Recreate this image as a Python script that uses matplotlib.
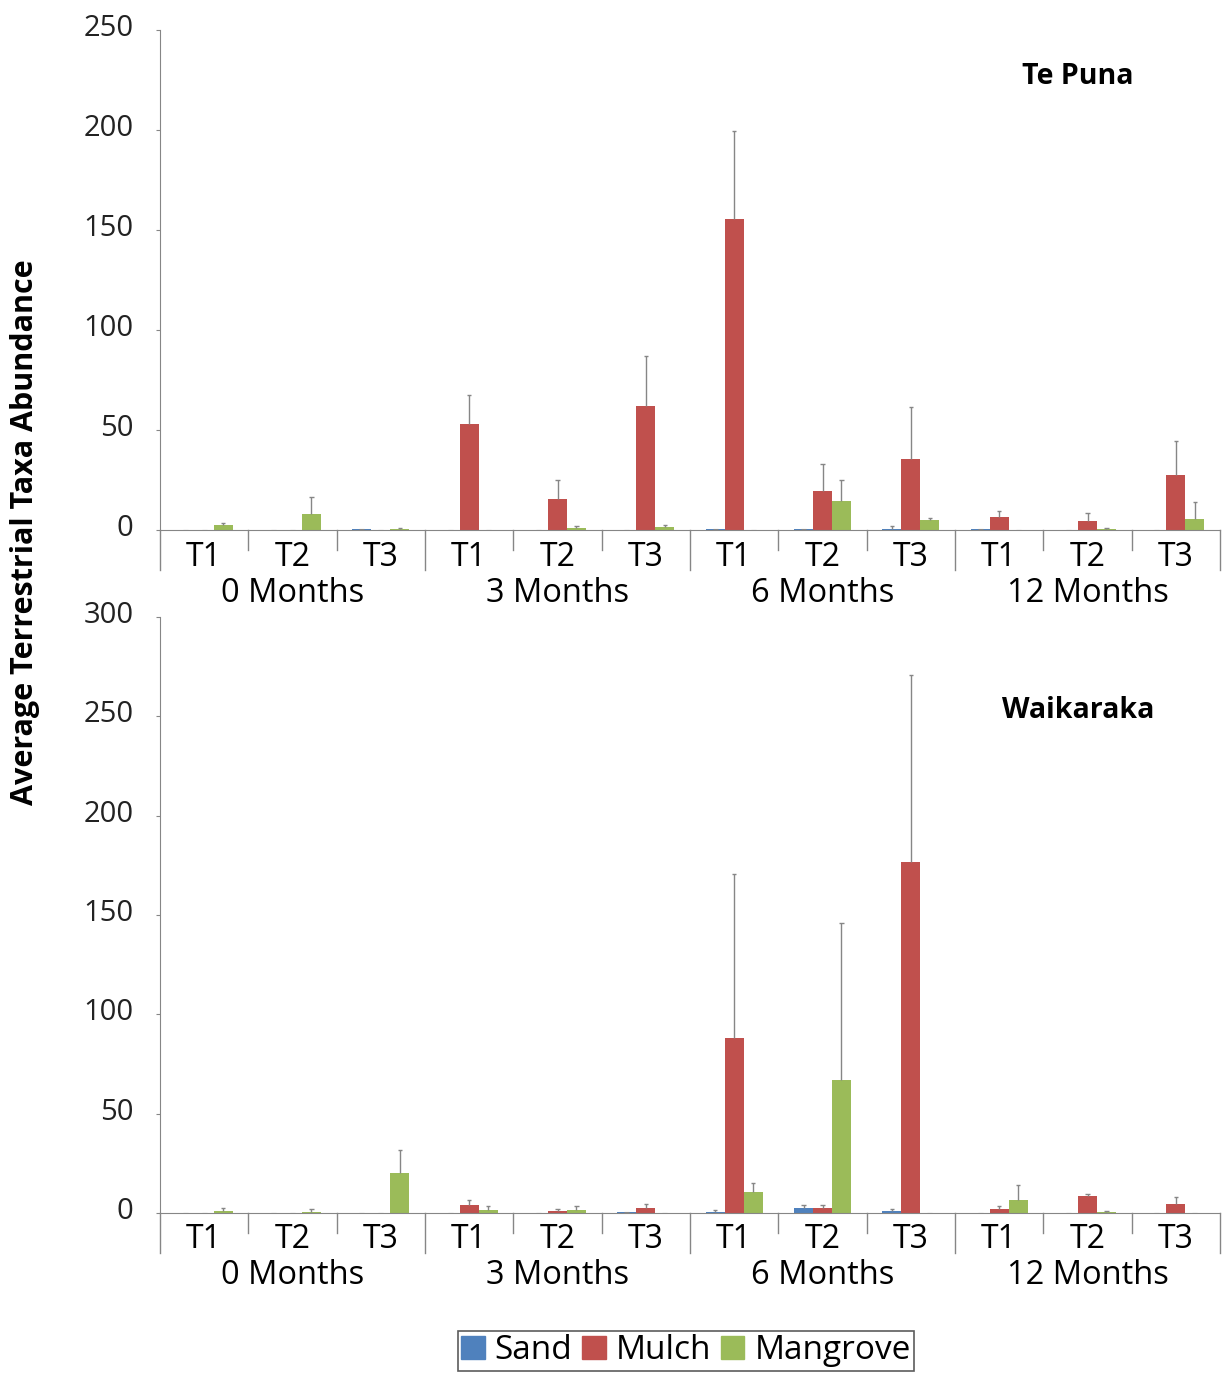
import numpy as np
import matplotlib
matplotlib.use("Agg")
import matplotlib.pyplot as plt
import matplotlib.transforms as mtransforms
from matplotlib.patches import Patch

plt.rcParams['font.family'] = ['Open Sans', 'DejaVu Sans']

# ---- data: mean abundance and (upper) error per treatment ----
months = ["0 Months", "3 Months", "6 Months", "12 Months"]
plots = ["T1", "T2", "T3"]
series = ["Sand", "Mulch", "Mangrove"]
colors = ["#4F81BD", "#C0504D", "#9BBB59"]

# Te Puna
tp_sand = [0.2, 0.2, 0.3, 0.2, 0.2, 0.2, 0.3, 0.3, 0.6, 0.3, 0.0, 0.2]
tp_mulch = [0.0, 0.0, 0.0, 53, 15.5, 62, 155.5, 19.5, 35.5, 6.5, 4.5, 27.5]
tp_mangrove = [2.5, 8, 0.3, 0.0, 1.0, 1.5, 0.0, 14.5, 5.0, 0.0, 0.4, 5.5]
tp_sand_err = [0, 0, 0, 0, 0, 0, 0, 0, 1.2, 0, 0, 0]
tp_mulch_err = [0, 0, 0, 14.5, 9.5, 25, 44, 13.5, 26, 3, 4, 17]
tp_mangrove_err = [1, 8.5, 0.7, 0, 1.2, 1.2, 0, 10.5, 1, 0, 0.6, 8.5]

# Waikaraka
wk_sand = [0.2, 0.0, 0.0, 0.0, 0.0, 0.3, 0.5, 2.5, 1.0, 0.0, 0.0, 0.0]
wk_mulch = [0.0, 0.0, 0.0, 4.0, 1.0, 2.5, 88, 2.5, 176.5, 2.0, 8.7, 4.5]
wk_mangrove = [1.0, 0.5, 20, 1.5, 1.5, 0.0, 10.5, 67, 0.0, 6.4, 0.4, 0.0]
wk_sand_err = [0, 0, 0, 0, 0, 0, 1, 1.5, 1, 0, 0, 0]
wk_mulch_err = [0, 0, 0, 2.5, 1, 2, 82.5, 1.5, 94.5, 1.7, 0.7, 3.5]
wk_mangrove_err = [1.5, 1.5, 11.7, 2, 2, 0, 4.5, 79, 0, 7.6, 0.6, 0]

fig = plt.figure(figsize=(12.24, 13.75), dpi=100)
W, H = 1224, 1375
ax_top = fig.add_axes([160 / W, 1 - 530 / H, 1060 / W, 500 / H])
ax_bot = fig.add_axes([160 / W, 1 - 1213 / H, 1060 / W, 596 / H])

grey = "#868686"
bw = 0.215
n = len(months) * len(plots)
xc = np.arange(n) + 0.5
lift = mtransforms.ScaledTranslation(0, 5 / 100, fig.dpi_scale_trans)


def draw_panel(ax, vals, errs, ymax, title, title_y, ax_h):
    for i, (v, e) in enumerate(zip(vals, errs)):
        x = xc + (i - 1) * bw
        ax.bar(x, v, width=bw, color=colors[i], zorder=2)
        v = np.array(v)
        e = np.array(e)
        m = e > 0
        ax.vlines(x[m], v[m], v[m] + e[m], color=grey, lw=1, zorder=3)
        ax.hlines(v[m] + e[m], x[m] - 0.025, x[m] + 0.025, color=grey, lw=1, zorder=3)
        # tiny marks for near-zero bars without error
        ax.hlines(v[~m], x[~m] - 0.03, x[~m] + 0.03, color=grey, lw=0.8, zorder=3)

    ax.set_xlim(0, n)
    ax.set_ylim(0, ymax)
    ax.set_yticks(np.arange(0, ymax + 1, 50))
    ax.tick_params(axis='y', labelsize=21, length=3, color=grey, pad=16,
                   labelcolor="#222222")
    for lab in ax.get_yticklabels():
        lab.set_transform(lab.get_transform() + lift)
    ax.set_xticks([])
    for s in ["top", "right"]:
        ax.spines[s].set_visible(False)
    ax.spines["left"].set_color(grey)
    ax.spines["bottom"].set_color(grey)

    # category axis: plot separators and month separators
    long_f = -40 / ax_h
    short_f = -20 / ax_h
    trans = ax.get_xaxis_transform()
    for k in range(n + 1):
        y1 = long_f if k % 3 == 0 else short_f
        ax.plot([k, k], [0, y1], color=grey, lw=1, transform=trans, clip_on=False)
    for k in range(n):
        ax.annotate(plots[k % 3], xy=(xc[k], 0), xycoords=trans,
                    xytext=(0, -27), textcoords='offset pixels',
                    ha='center', va='center', fontsize=23)
    for g, lab in enumerate(months):
        ax.annotate(lab, xy=(g * 3 + 1.5, 0), xycoords=trans,
                    xytext=(0, -63), textcoords='offset pixels',
                    ha='center', va='center', fontsize=23.5)

    fig.text(1078 / W, 1 - title_y / H, title, fontsize=20.5, fontweight='bold',
             ha='center', va='center')


draw_panel(ax_top, [tp_sand, tp_mulch, tp_mangrove],
           [tp_sand_err, tp_mulch_err, tp_mangrove_err], 250, "Te Puna", 76, 500)
draw_panel(ax_bot, [wk_sand, wk_mulch, wk_mangrove],
           [wk_sand_err, wk_mulch_err, wk_mangrove_err], 300, "Waikaraka", 711, 596)

fig.text(25 / W, 1 - 532 / H, "Average Terrestrial Taxa Abundance", rotation=90,
         fontsize=22, fontweight='bold', ha='center', va='center')

handles = [Patch(color=c, label=s) for c, s in zip(colors, series)]
leg = fig.legend(handles=handles, loc='upper center', ncol=3,
                 bbox_to_anchor=(686 / W, 1 - 1331 / H), fontsize=24,
                 frameon=True, fancybox=False, handlelength=0.7, handleheight=0.7,
                 handletextpad=0.3, columnspacing=0.3, borderpad=0.1,
                 borderaxespad=0)
leg.get_frame().set_edgecolor("#333333")
leg.get_frame().set_linewidth(1.2)

fig.savefig("out.png", dpi=100)
